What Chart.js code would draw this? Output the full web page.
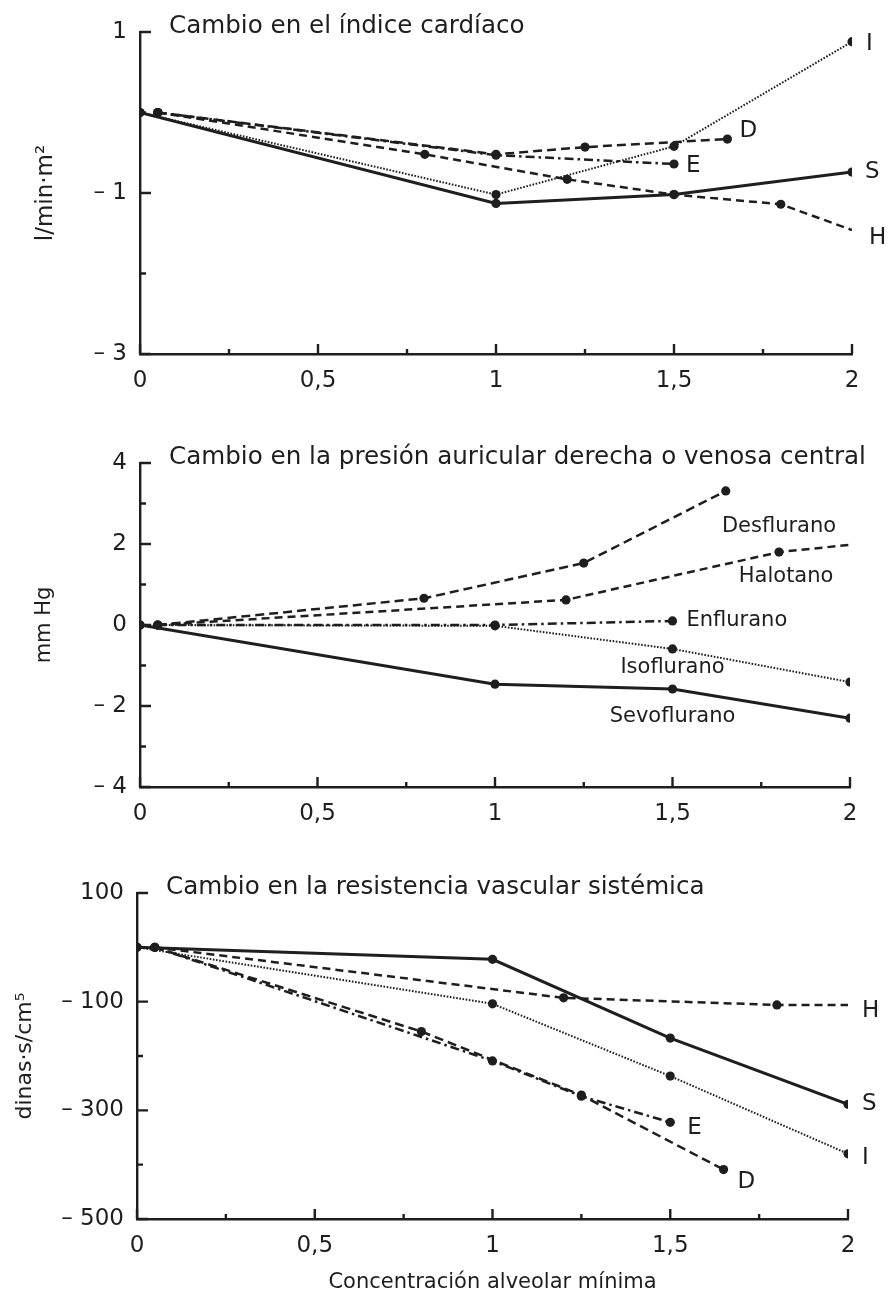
<!DOCTYPE html>
<html>
<head>
<meta charset="utf-8">
<script src="https://cdn.jsdelivr.net/npm/chart.js@4.4.1/dist/chart.umd.min.js"></script>
<style>
  html, body { margin: 0; padding: 0; background: #fff; }
  #wrap { position: relative; width: 888px; height: 1304px; }
  canvas { position: absolute; left: 0; }
</style>
</head>
<body>
<div id="wrap">
  <canvas id="ci" width="888" height="420" style="top:0px"></canvas>
  <canvas id="pad" width="888" height="430" style="top:420px"></canvas>
  <canvas id="rvs" width="888" height="454" style="top:850px"></canvas>
</div>
<script>
const INK = '#1e1e1e';
Chart.defaults.font.family = '"DejaVu Sans", sans-serif';
Chart.defaults.color = INK;

// x axis: concentración alveolar mínima
const xTickValues = [0, 0.5, 1, 1.5, 2];
const xTickLabels = ['0', '0,5', '1', '1,5', '2'];

// índice cardíaco (l/min·m²)
const ciTicks = [1, -1, -3];
const ciSevoX = [0, 1, 1.5, 2];
const ciSevoY = [0, -1.13, -1.02, -0.74];
const ciIsoX = [0, 1, 1.5, 2];
const ciIsoY = [0, -1.02, -0.42, 0.88];
const ciDesX = [0.05, 1, 1.25, 1.65];
const ciDesY = [0, -0.52, -0.43, -0.33];
const ciEnfX = [0.05, 1, 1.5];
const ciEnfY = [0, -0.53, -0.64];
const ciHalX = [0.05, 0.8, 1.2, 1.5, 1.8, 2];
const ciHalY = [0, -0.52, -0.83, -1.02, -1.14, -1.46];

// presión auricular derecha (mm Hg)
const padTicks = [4, 2, 0, -2, -4];
const padSevoX = [0, 1, 1.5, 2];
const padSevoY = [0, -1.46, -1.58, -2.3];
const padIsoX = [0, 1, 1.5, 2];
const padIsoY = [0, -0.02, -0.59, -1.41];
const padEnfX = [0.05, 1, 1.5];
const padEnfY = [0, 0, 0.1];
const padHalX = [0.05, 1.2, 1.8, 2];
const padHalY = [0, 0.62, 1.8, 1.98];
const padDesX = [0.05, 0.8, 1.25, 1.65];
const padDesY = [0, 0.66, 1.53, 3.31];

// resistencia vascular sistémica (dinas·s/cm⁵)
const rvsTicks = [100, -100, -300, -500];
const rvsSevoX = [0, 1, 1.5, 2];
const rvsSevoY = [0, -22, -167, -289];
const rvsIsoX = [0, 1, 1.5, 2];
const rvsIsoY = [0, -104, -237, -380];
const rvsHalX = [0.05, 1.2, 1.8, 2];
const rvsHalY = [0, -93, -106, -106];
const rvsEnfX = [0.05, 1, 1.25, 1.5];
const rvsEnfY = [0, -209, -274, -322];
const rvsDesX = [0.05, 0.8, 1.25, 1.65];
const rvsDesY = [0, -155, -272, -409];

const pts = (xs, ys) => xs.map((x, i) => ({ x: x, y: ys[i] }));
const fmt = v => v < 0 ? '\u2013 ' + Math.abs(v) : String(v);

const lineKinds = {
  sevo: { width: 3,   dash: [] },
  iso:  { width: 2,   dash: [1.6, 1.6] },
  des:  { width: 2.5, dash: [9, 5] },
  hal:  { width: 2.5, dash: [8, 5] },
  enf:  { width: 2.5, dash: [9, 4, 2.5, 4] }
};

function series(xs, ys, kind, openEnd) {
  const k = lineKinds[kind];
  return {
    data: pts(xs, ys),
    showLine: true,
    borderColor: INK,
    borderWidth: k.width,
    borderDash: k.dash,
    pointBackgroundColor: INK,
    pointBorderWidth: 0,
    pointRadius: c => (openEnd && c.dataIndex === xs.length - 1) ? 0 : 4.6,
    tension: 0
  };
}

const axisMarks = {
  id: 'axisMarks',
  afterDraw(chart, args, o) {
    const { ctx, chartArea: a, scales: { x, y } } = chart;
    ctx.save();
    ctx.strokeStyle = INK;
    ctx.lineWidth = 2.4;
    ctx.beginPath();
    x.ticks.forEach(t => {
      const px = x.getPixelForValue(t.value);
      const len = xTickValues.includes(t.value) ? 10 : 5;
      ctx.moveTo(px, a.bottom);
      ctx.lineTo(px, a.bottom - len);
    });
    y.ticks.forEach(t => {
      const py = y.getPixelForValue(t.value);
      const len = o.yLabeled.includes(t.value) ? 11 : 6;
      ctx.moveTo(a.left, py);
      ctx.lineTo(a.left + len, py);
    });
    ctx.stroke();

    ctx.fillStyle = INK;
    ctx.textAlign = 'left';
    ctx.textBaseline = 'alphabetic';
    ctx.font = '24.6px "DejaVu Sans"';
    ctx.fillText(o.title, a.left + 29, a.top + 1);

    ctx.textBaseline = 'middle';
    o.labels.forEach(l => {
      let px, py;
      if (l.series !== undefined) {
        const els = chart.getDatasetMeta(l.series).data;
        const p = els[els.length - 1];
        px = p.x; py = p.y;
      } else {
        px = x.getPixelForValue(l.at[0]);
        py = y.getPixelForValue(l.at[1]);
      }
      ctx.font = (l.size || 23) + 'px "DejaVu Sans"';
      ctx.textAlign = l.align || 'left';
      ctx.fillText(l.text, px + (l.dx || 0), py + (l.dy || 0));
    });
    ctx.restore();
  }
};

function makeChart(id, cfg) {
  return new Chart(document.getElementById(id), {
    type: 'scatter',
    data: { datasets: cfg.datasets },
    options: {
      responsive: false,
      animation: false,
      layout: { padding: { top: cfg.padTop, right: cfg.padRight, left: 0, bottom: 0 } },
      plugins: {
        legend: { display: false },
        tooltip: { enabled: false },
        axisMarks: { title: cfg.title, yLabeled: cfg.yLabeled, labels: cfg.labels }
      },
      scales: {
        x: {
          type: 'linear', min: 0, max: 2,
          afterFit: s => { s.height = cfg.xHeight; },
          border: { display: true, color: INK, width: 2.4 },
          grid: { display: true, drawOnChartArea: false, drawTicks: false },
          ticks: {
            stepSize: 0.25, padding: 13, maxRotation: 0, autoSkip: false,
            font: { size: 23 },
            callback: v => { const i = xTickValues.indexOf(v); return i < 0 ? '' : xTickLabels[i]; }
          },
          title: cfg.xTitle
            ? { display: true, text: cfg.xTitle, font: { size: 21 }, padding: { top: 0, bottom: 9 } }
            : { display: false }
        },
        y: {
          type: 'linear', min: cfg.yMin, max: cfg.yMax,
          afterFit: s => { s.width = cfg.yWidth; },
          border: { display: true, color: INK, width: 2.4 },
          grid: { display: true, drawOnChartArea: false, drawTicks: false },
          ticks: {
            stepSize: cfg.yStep, padding: 13, autoSkip: false,
            font: { size: 23 },
            callback: v => cfg.yLabeled.includes(v) ? fmt(v) : ''
          },
          title: { display: true, text: cfg.yTitle, font: { size: cfg.yTitleSize || 21 }, padding: { top: cfg.yTitlePad, bottom: 0 } }
        }
      }
    },
    plugins: [axisMarks]
  });
}

makeChart('ci', {
  title: 'Cambio en el índice cardíaco',
  yTitle: 'l/min·m²', yTitlePad: 32, yTitleSize: 23,
  yMin: -3, yMax: 1, yStep: 1, yLabeled: ciTicks,
  padTop: 32, padRight: 36, yWidth: 140, xHeight: 66,
  datasets: [
    series(ciSevoX, ciSevoY, 'sevo'),
    series(ciIsoX, ciIsoY, 'iso'),
    series(ciDesX, ciDesY, 'des'),
    series(ciEnfX, ciEnfY, 'enf'),
    series(ciHalX, ciHalY, 'hal', true)
  ],
  labels: [
    { text: 'S', series: 0, dx: 13, dy: 0 },
    { text: 'I', series: 1, dx: 14, dy: 2 },
    { text: 'D', series: 2, dx: 12, dy: -8 },
    { text: 'E', series: 3, dx: 12, dy: 2 },
    { text: 'H', series: 4, dx: 17, dy: 8 }
  ]
});

makeChart('pad', {
  title: 'Cambio en la presión auricular derecha o venosa central',
  yTitle: 'mm Hg', yTitlePad: 32,
  yMin: -4, yMax: 4, yStep: 1, yLabeled: padTicks,
  padTop: 43, padRight: 38, yWidth: 140, xHeight: 63,
  datasets: [
    series(padSevoX, padSevoY, 'sevo'),
    series(padIsoX, padIsoY, 'iso'),
    series(padEnfX, padEnfY, 'enf'),
    series(padHalX, padHalY, 'hal', true),
    series(padDesX, padDesY, 'des')
  ],
  labels: [
    { text: 'Desflurano', at: [1.8, 2.42], align: 'center', size: 21 },
    { text: 'Halotano', at: [1.82, 1.19], align: 'center', size: 21 },
    { text: 'Enflurano', series: 2, dx: 14, dy: 0, size: 21 },
    { text: 'Isoflurano', at: [1.5, -1.06], align: 'center', size: 21 },
    { text: 'Sevoflurano', at: [1.5, -2.27], align: 'center', size: 21 }
  ]
});

makeChart('rvs', {
  title: 'Cambio en la resistencia vascular sistémica',
  yTitle: 'dinas·s/cm⁵', yTitlePad: 12, yTitleSize: 22,
  yMin: -500, yMax: 100, yStep: 100, yLabeled: rvsTicks,
  padTop: 43, padRight: 40, yWidth: 137, xHeight: 85,
  xTitle: 'Concentración alveolar mínima',
  datasets: [
    series(rvsSevoX, rvsSevoY, 'sevo'),
    series(rvsIsoX, rvsIsoY, 'iso'),
    series(rvsHalX, rvsHalY, 'hal', true),
    series(rvsEnfX, rvsEnfY, 'enf'),
    series(rvsDesX, rvsDesY, 'des')
  ],
  labels: [
    { text: 'S', series: 0, dx: 14, dy: 0 },
    { text: 'I', series: 1, dx: 14, dy: 4 },
    { text: 'H', series: 2, dx: 14, dy: 6 },
    { text: 'E', series: 3, dx: 17, dy: 6 },
    { text: 'D', series: 4, dx: 14, dy: 12 }
  ]
});
</script>
</body>
</html>
